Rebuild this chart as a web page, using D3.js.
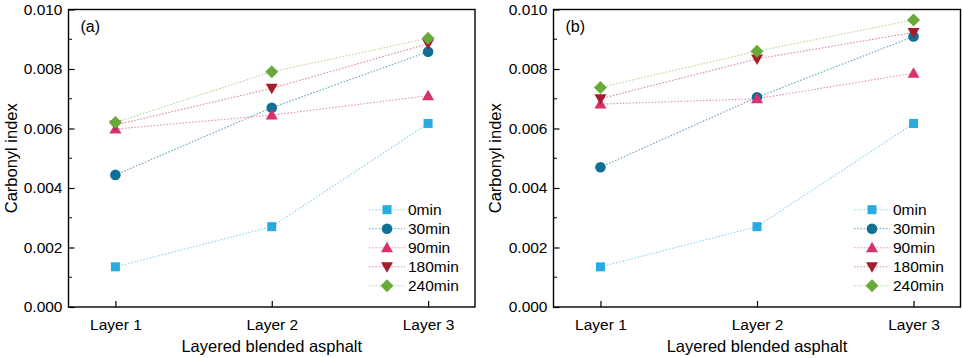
<!DOCTYPE html>
<html><head><meta charset="utf-8">
<script src="https://cdn.jsdelivr.net/npm/d3@7"></script>
<style>body{margin:0;background:#fff}svg{display:block;font-family:"Liberation Sans",Arial,sans-serif}</style>
</head><body><svg id="c" width="962" height="358"></svg>
<script>
const categories = ["Layer 1","Layer 2","Layer 3"];
const seriesNames = ["0min","30min","90min","180min","240min"];
const yTicks = [0,0.002,0.004,0.006,0.008,0.010];
// panel (a)
const a0 = [0.00135,0.00270,0.00617];
const a30 = [0.00444,0.00670,0.00858];
const a90 = [0.00598,0.00645,0.00710];
const a180 = [0.00612,0.00735,0.00885];
const a240 = [0.00620,0.00791,0.00903];
// panel (b)
const b0 = [0.00135,0.00270,0.00617];
const b30 = [0.00470,0.00705,0.00909];
const b90 = [0.00682,0.00700,0.00786];
const b180 = [0.00700,0.00834,0.00923];
const b240 = [0.00738,0.00860,0.00965];

const colors = ["#29abe2","#0f6f96","#d9306f","#a51d2d","#6aaa3a"];
const lineColors = ["#8fd3f0","#6aa6c0","#ec93b3","#e08a9a","#b5d89a"];
const shapes = ["square","circle","up","down","diamond"];

const svg = d3.select("#c");

function marker(g, shape, x, y, color){
  let p;
  if(shape==="square"){ p=g.append("rect").attr("x",x-4.5).attr("y",y-4.5).attr("width",9).attr("height",9); }
  else if(shape==="circle"){ p=g.append("circle").attr("cx",x).attr("cy",y).attr("r",5.3); }
  else if(shape==="up"){ p=g.append("path").attr("d",`M${x},${y-6}L${x+6},${y+4.5}L${x-6},${y+4.5}Z`); }
  else if(shape==="down"){ p=g.append("path").attr("d",`M${x},${y+6}L${x+6},${y-4.5}L${x-6},${y-4.5}Z`); }
  else { p=g.append("path").attr("d",`M${x},${y-6.5}L${x+6.5},${y}L${x},${y+6.5}L${x-6.5},${y}Z`); }
  p.attr("fill",color);
}

function panel(opts){
  const {left,right,top,bottom,series,label,titleX,legX} = opts;
  const x = d3.scaleLinear().domain([0.7,3.3]).range([left,right]);
  const y = d3.scaleLinear().domain([0,0.010]).range([bottom,top]);
  const g = svg.append("g");
  // minor ticks
  const minor = d3.range(0.001,0.010,0.002);
  g.selectAll(".mn").data(minor).enter().append("line")
    .attr("x1",left).attr("x2",left+3.5).attr("y1",d=>y(d)).attr("y2",d=>y(d))
    .attr("stroke","#000").attr("stroke-width",1);
  // y axis
  const ya = d3.axisLeft(y).tickValues(yTicks).tickFormat(d3.format(".3f")).tickSizeInner(-6).tickSizeOuter(0).tickPadding(6);
  const yg = g.append("g").attr("transform",`translate(${left},0)`).call(ya);
  yg.select(".domain").remove();
  yg.selectAll("text").attr("font-size",15.5).attr("fill","#000").attr("font-family","Liberation Sans, Arial, sans-serif");
  yg.selectAll("line").attr("stroke","#000").attr("stroke-width",1.2);
  // x axis
  const xa = d3.axisBottom(x).tickValues([1,2,3]).tickFormat((d,i)=>categories[i]).tickSizeInner(-6).tickSizeOuter(0).tickPadding(12);
  const xg = g.append("g").attr("transform",`translate(0,${bottom})`).call(xa);
  xg.select(".domain").remove();
  xg.selectAll("text").attr("font-size",15.5).attr("fill","#000").attr("font-family","Liberation Sans, Arial, sans-serif");
  xg.selectAll("line").attr("stroke","#000").attr("stroke-width",1.2);
  // frame
  g.append("rect").attr("x",left).attr("y",top).attr("width",right-left).attr("height",bottom-top)
    .attr("fill","none").attr("stroke","#000").attr("stroke-width",1.4);
  // lines
  const line = d3.line().x((d,i)=>x(i+1)).y(d=>y(d));
  series.forEach((s,k)=>{
    g.append("path").attr("d",line(s)).attr("fill","none").attr("stroke",lineColors[k])
      .attr("stroke-width",1.1).attr("stroke-dasharray","1.6,1.6");
  });
  series.forEach((s,k)=>{
    s.forEach((v,i)=>marker(g,shapes[k],x(i+1),y(v),colors[k]));
  });
  // panel label
  g.append("text").attr("x",left+12).attr("y",top+22).attr("font-size",16).text(label);
  // axis titles
  g.append("text").attr("x",(left+right)/2).attr("y",352).attr("text-anchor","middle").attr("font-size",16.5).text("Layered blended asphalt");
  g.append("text").attr("transform",`translate(${titleX},${(top+bottom)/2}) rotate(-90)`).attr("text-anchor","middle").attr("font-size",16.5).text("Carbonyl index");
  // legend
  seriesNames.forEach((n,k)=>{
    const ly = 209.7 + k*19;
    g.append("line").attr("x1",legX).attr("x2",legX+36).attr("y1",ly).attr("y2",ly)
      .attr("stroke",lineColors[k]).attr("stroke-width",1.1).attr("stroke-dasharray","1.6,1.6");
    marker(g,shapes[k],legX+18,ly,colors[k]);
    g.append("text").attr("x",legX+39).attr("y",ly+5.5).attr("font-size",15.5).text(n);
  });
}

panel({left:68.5,right:475,top:9.5,bottom:307,series:[a0,a30,a90,a180,a240],label:"(a)",titleX:17,legX:369});
panel({left:553.5,right:960.5,top:9.5,bottom:307,series:[b0,b30,b90,b180,b240],label:"(b)",titleX:501,legX:854});
</script></body></html>
